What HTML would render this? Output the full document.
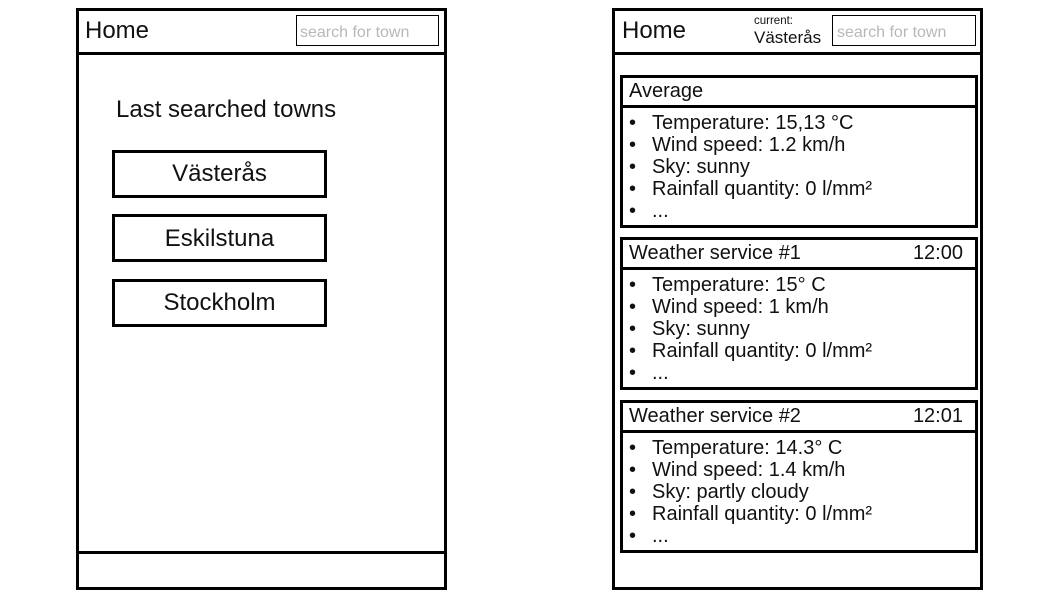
<!DOCTYPE html>
<html><head><meta charset="utf-8"><style>
html,body{margin:0;padding:0;background:#fff;}
svg{display:block;}
text{font-family:"Liberation Sans",Arial,sans-serif;fill:#111;}
</style></head><body>
<svg width="1058" height="595" viewBox="0 0 1058 595" xmlns="http://www.w3.org/2000/svg">
<g fill="none" stroke="#000">
<rect x="77.5" y="9.5" width="368" height="579" stroke-width="3"/>
<line x1="77" y1="53.5" x2="446" y2="53.5" stroke-width="3"/>
<line x1="77" y1="552.5" x2="446" y2="552.5" stroke-width="3"/>
<rect x="296.5" y="15.5" width="142" height="30" stroke-width="1"/>
<rect x="113.5" y="151.5" width="212" height="45" stroke-width="3"/>
<rect x="113.5" y="215.5" width="212" height="45" stroke-width="3"/>
<rect x="113.5" y="280.5" width="212" height="45" stroke-width="3"/>
<rect x="613.5" y="9.5" width="368" height="579" stroke-width="3"/>
<line x1="613" y1="53.5" x2="982" y2="53.5" stroke-width="3"/>
<rect x="832.5" y="15.5" width="143" height="30" stroke-width="1"/>
<rect x="621.5" y="76.5" width="355" height="150" stroke-width="3"/>
<line x1="621" y1="106.5" x2="977" y2="106.5" stroke-width="3"/>
<rect x="621.5" y="238.5" width="355" height="150" stroke-width="3"/>
<line x1="621" y1="268.5" x2="977" y2="268.5" stroke-width="3"/>
<rect x="621.5" y="401.5" width="355" height="150" stroke-width="3"/>
<line x1="621" y1="431.5" x2="977" y2="431.5" stroke-width="3"/>
</g>
<text x="85" y="38" font-size="24">Home</text>
<text x="300" y="37" font-size="16" style="fill:#b8b8b8">search for town</text>
<text x="116" y="117" font-size="24">Last searched towns</text>
<text x="219.5" y="181" font-size="24" text-anchor="middle">Västerås</text>
<text x="219.5" y="246" font-size="24" text-anchor="middle">Eskilstuna</text>
<text x="219.5" y="310" font-size="24" text-anchor="middle">Stockholm</text>
<text x="622" y="38" font-size="24">Home</text>
<text x="754" y="24" font-size="11.5">current:</text>
<text x="754" y="43" font-size="17">Västerås</text>
<text x="837" y="37" font-size="16" style="fill:#b8b8b8">search for town</text>

<g font-size="20">
<text x="629" y="97">Average</text>
<text x="629" y="129">•</text><text x="652" y="129">Temperature: 15,13 °C</text>
<text x="629" y="151">•</text><text x="652" y="151">Wind speed: 1.2 km/h</text>
<text x="629" y="173">•</text><text x="652" y="173">Sky: sunny</text>
<text x="629" y="195">•</text><text x="652" y="195">Rainfall quantity: 0 l/mm²</text>
<text x="629" y="217">•</text><text x="652" y="217">...</text>

<text x="629" y="259">Weather service #1</text>
<text x="963" y="259" text-anchor="end">12:00</text>
<text x="629" y="291">•</text><text x="652" y="291">Temperature: 15° C</text>
<text x="629" y="313">•</text><text x="652" y="313">Wind speed: 1 km/h</text>
<text x="629" y="335">•</text><text x="652" y="335">Sky: sunny</text>
<text x="629" y="357">•</text><text x="652" y="357">Rainfall quantity: 0 l/mm²</text>
<text x="629" y="379">•</text><text x="652" y="379">...</text>

<text x="629" y="422">Weather service #2</text>
<text x="963" y="422" text-anchor="end">12:01</text>
<text x="629" y="454">•</text><text x="652" y="454">Temperature: 14.3° C</text>
<text x="629" y="476">•</text><text x="652" y="476">Wind speed: 1.4 km/h</text>
<text x="629" y="498">•</text><text x="652" y="498">Sky: partly cloudy</text>
<text x="629" y="520">•</text><text x="652" y="520">Rainfall quantity: 0 l/mm²</text>
<text x="629" y="542">•</text><text x="652" y="542">...</text>
</g>
</svg>
</body></html>
